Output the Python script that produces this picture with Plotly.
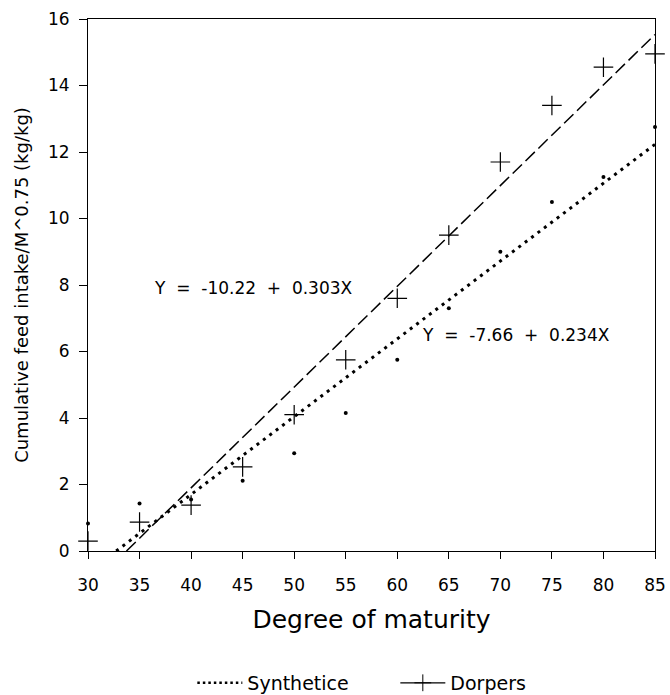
import plotly.graph_objects as go

# Data
maturity = [30, 35, 40, 45, 50, 55, 60, 65, 70, 75, 80, 85]
dorpers = [0.30, 0.87, 1.38, 2.53, 4.10, 5.75, 7.60, 9.50, 11.70, 13.40, 14.55, 14.95]
synthetice = [0.83, 1.43, 1.55, 2.11, 2.94, 4.15, 5.75, 7.30, 9.00, 10.50, 11.25, 12.75]
y_ticks = [0, 2, 4, 6, 8, 10, 12, 14, 16]

# Regression: [intercept, slope]
dorpers_fit = [-10.22, 0.303]
synth_fit = [-7.66, 0.234]

x_end = 85
FONT = "DejaVu Sans, Verdana, sans-serif"


def fit_line(fit):
    a, b = fit
    x0 = -a / b
    xs = [x0, x_end]
    ys = [a + b * x for x in xs]
    return xs, ys


fig = go.Figure()

dx, dy = fit_line(dorpers_fit)
sx, sy = fit_line(synth_fit)

fig.add_trace(go.Scatter(x=dx, y=dy, mode="lines", showlegend=False,
                         line=dict(color="black", width=1.5, dash="13px,5px"),
                         hoverinfo="skip"))
fig.add_trace(go.Scatter(x=sx, y=sy, mode="lines", showlegend=False,
                         line=dict(color="black", width=3, dash="3px,5px"),
                         hoverinfo="skip"))
fig.add_trace(go.Scatter(x=maturity, y=dorpers, mode="markers", showlegend=False,
                         cliponaxis=False,
                         marker=dict(symbol="cross-thin-open", size=14, color="black",
                                     line=dict(color="black", width=1.2))))
fig.add_trace(go.Scatter(x=maturity, y=synthetice, mode="markers", showlegend=False,
                         cliponaxis=False,
                         marker=dict(symbol="circle", size=4, color="black")))

# legend entries
fig.add_trace(go.Scatter(x=[None], y=[None], mode="lines", name="Synthetice",
                         line=dict(color="black", width=2.5, dash="2.5px,3px")))
fig.add_trace(go.Scatter(x=[None], y=[None], mode="lines+markers", name="Dorpers",
                         line=dict(color="black", width=1.2),
                         marker=dict(symbol="cross-thin-open", size=12, color="black",
                                     line=dict(color="black", width=1))))

fig.add_annotation(x=36.2, y=7.9, xanchor="left", yanchor="middle",
                   text="Y  =  -10.22  +  0.303X", showarrow=False,
                   font=dict(size=17, color="black", family=FONT))
fig.add_annotation(x=62.2, y=6.5, xanchor="left", yanchor="middle",
                   text="Y  =  -7.66  +  0.234X", showarrow=False,
                   font=dict(size=17, color="black", family=FONT))

fig.update_layout(
    width=670, height=695,
    margin=dict(l=88, r=15, t=19, b=144, autoexpand=False),
    paper_bgcolor="white", plot_bgcolor="white",
    font=dict(family=FONT, color="black", size=17),
    showlegend=True,
    legend=dict(orientation="h", x=0.184, y=-0.248, xanchor="left", yanchor="middle",
                font=dict(size=19), itemwidth=45, traceorder="normal",
                entrywidth=143, entrywidthmode="pixels",
                bgcolor="rgba(0,0,0,0)"),
)
fig.update_xaxes(range=[30, 85], tickvals=maturity, ticks="outside", ticklen=7,
                 tickcolor="black", showgrid=False, zeroline=False,
                 showline=True, linecolor="black", linewidth=1, mirror=True,
                 tickfont=dict(size=17), ticklabelstandoff=12,
                 title=dict(text="Degree of maturity", font=dict(size=25), standoff=16))
fig.update_yaxes(range=[0, 16], tickvals=y_ticks, ticks="outside",
                 ticklen=8, tickcolor="black", showgrid=False, zeroline=False,
                 showline=True, linecolor="black", linewidth=1, mirror=True,
                 tickfont=dict(size=17), ticklabelstandoff=6,
                 title=dict(text="Cumulative feed intake/M^0.75 (kg/kg)",
                            font=dict(size=18), standoff=14))

fig.write_html("out.html")
